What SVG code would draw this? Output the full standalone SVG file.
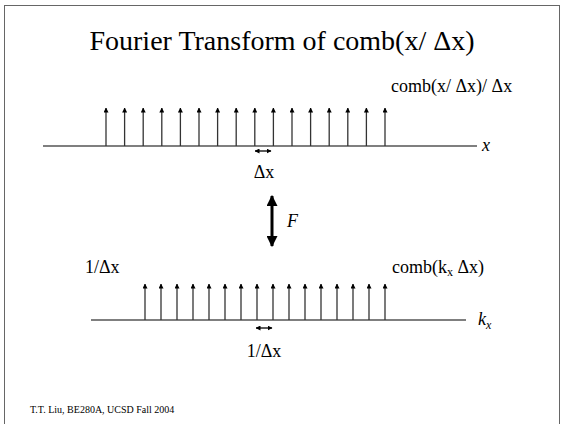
<svg xmlns="http://www.w3.org/2000/svg" width="564" height="424" viewBox="0 0 564 424">
<style>
text{font-family:"Liberation Serif","Times New Roman",serif;fill:#000}
.ax{stroke:#555;stroke-width:1.5;fill:none}
.imp{stroke:#333;stroke-width:1.3;fill:none}
.sm{stroke:#000;stroke-width:1.3;fill:none}
.lb{font-size:18px}
</style>
<defs>
<marker id="ah" viewBox="0 0 10 10" refX="9" refY="5" markerWidth="5" markerHeight="5" orient="auto" markerUnits="userSpaceOnUse"><path d="M0,0 L10,5 L0,10 z" fill="#000"/></marker>
<marker id="ahs" viewBox="0 0 10 10" refX="9" refY="5" markerWidth="5" markerHeight="5" orient="auto-start-reverse" markerUnits="userSpaceOnUse"><path d="M0,0 L10,5 L0,10 z" fill="#000"/></marker>
<marker id="ahb" viewBox="0 0 10 10" refX="9" refY="5" markerWidth="11" markerHeight="11" orient="auto-start-reverse" markerUnits="userSpaceOnUse"><path d="M0,0 L10,5 L0,10 z" fill="#000"/></marker>
</defs>
<rect x="0" y="0" width="564" height="424" fill="#fff"/>
<rect x="4.5" y="5.5" width="555" height="440" fill="none" stroke="#666" stroke-width="1"/>
<g id="title"><text x="282" y="50" font-size="28" text-anchor="middle">Fourier Transform of comb(x/ Δx)</text></g>
<g id="upper">
<text class="lb" x="391" y="92">comb(x/ Δx)/ Δx</text>
<line class="ax" x1="43" y1="146" x2="477" y2="146"/>
<text class="lb" x="482" y="151" font-style="italic">x</text>
<g class="imp" marker-end="url(#ah)">
<line x1="106" y1="146" x2="106" y2="108"/><line x1="124.6" y1="146" x2="124.6" y2="108"/><line x1="143.2" y1="146" x2="143.2" y2="108"/><line x1="161.8" y1="146" x2="161.8" y2="108"/>
<line x1="180.4" y1="146" x2="180.4" y2="108"/><line x1="199" y1="146" x2="199" y2="108"/><line x1="217.6" y1="146" x2="217.6" y2="108"/><line x1="236.2" y1="146" x2="236.2" y2="108"/>
<line x1="254.8" y1="146" x2="254.8" y2="108"/><line x1="273.4" y1="146" x2="273.4" y2="108"/><line x1="292" y1="146" x2="292" y2="108"/><line x1="310.6" y1="146" x2="310.6" y2="108"/>
<line x1="329.2" y1="146" x2="329.2" y2="108"/><line x1="347.8" y1="146" x2="347.8" y2="108"/><line x1="366.4" y1="146" x2="366.4" y2="108"/><line x1="385" y1="146" x2="385" y2="108"/>
</g>
<line class="sm" x1="255" y1="151" x2="271" y2="151" marker-start="url(#ahs)" marker-end="url(#ahs)"/>
<text class="lb" x="264" y="178" text-anchor="middle">Δx</text>
</g>
<g id="ft">
<line x1="272" y1="196" x2="272" y2="246" stroke="#000" stroke-width="3" marker-start="url(#ahb)" marker-end="url(#ahb)"/>
<text class="lb" x="287" y="227" font-style="italic">F</text>
</g>
<g id="lower">
<text class="lb" x="85" y="273">1/Δx</text>
<text class="lb" x="392" y="273">comb(k<tspan font-size="12" dy="3">x</tspan><tspan dy="-3"> Δx)</tspan></text>
<line class="ax" x1="91" y1="320" x2="466" y2="320"/>
<text class="lb" x="478" y="325" font-style="italic">k<tspan font-size="12" dy="4">x</tspan></text>
<g class="imp" marker-end="url(#ah)">
<line x1="145" y1="320" x2="145" y2="284"/><line x1="161" y1="320" x2="161" y2="284"/><line x1="177" y1="320" x2="177" y2="284"/><line x1="193" y1="320" x2="193" y2="284"/>
<line x1="209" y1="320" x2="209" y2="284"/><line x1="225" y1="320" x2="225" y2="284"/><line x1="241" y1="320" x2="241" y2="284"/><line x1="257" y1="320" x2="257" y2="284"/>
<line x1="273" y1="320" x2="273" y2="284"/><line x1="289" y1="320" x2="289" y2="284"/><line x1="305" y1="320" x2="305" y2="284"/><line x1="321" y1="320" x2="321" y2="284"/>
<line x1="337" y1="320" x2="337" y2="284"/><line x1="353" y1="320" x2="353" y2="284"/><line x1="369" y1="320" x2="369" y2="284"/><line x1="385" y1="320" x2="385" y2="284"/>
</g>
<line class="sm" x1="256" y1="328" x2="272" y2="328" marker-start="url(#ahs)" marker-end="url(#ahs)"/>
<text class="lb" x="264" y="357" text-anchor="middle">1/Δx</text>
</g>
<g id="footer"><text x="30" y="413" font-size="10">T.T. Liu, BE280A, UCSD Fall 2004</text></g>
</svg>
